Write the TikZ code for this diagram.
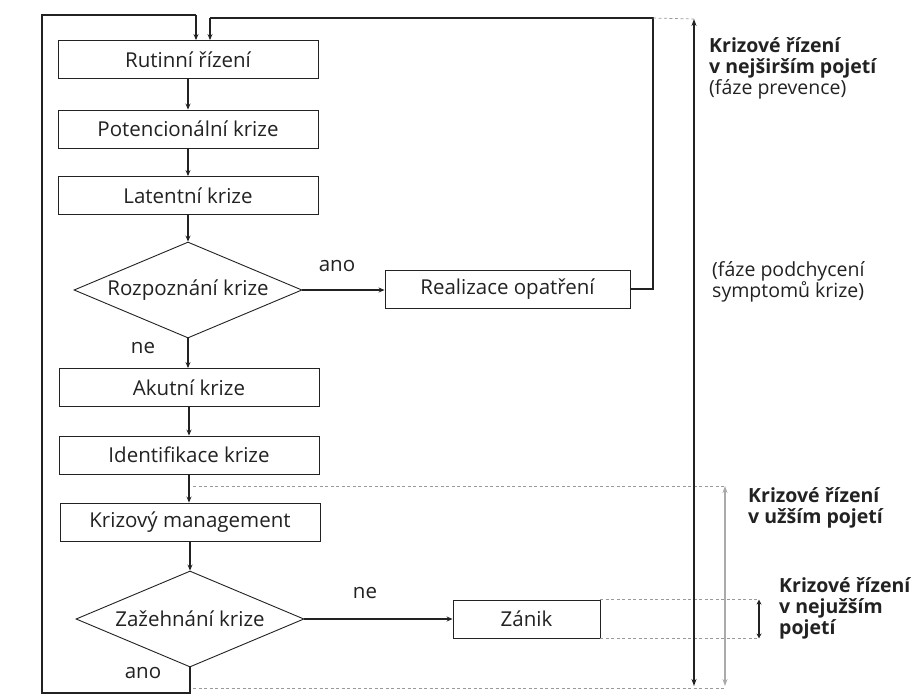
\documentclass[tikz,border=0pt]{standalone}
\usepackage{fontspec}
\setmainfont{Open Sans}
\usetikzlibrary{arrows.meta,shapes.geometric}
\definecolor{ink}{HTML}{222222}
\definecolor{dash}{HTML}{9A9A9A}
\definecolor{greyarrow}{HTML}{AAAAAA}
\tikzset{
  procbox/.style={draw=ink, line width=0.9pt, minimum width=260pt, minimum height=38pt, inner sep=0pt, font=\fontsize{20.5}{23}\selectfont, text=ink},
  decbox/.style={diamond, aspect=2.375, draw=ink, line width=0.9pt, minimum width=228pt, minimum height=96pt, inner sep=0pt, font=\fontsize{20.5}{23}\selectfont, text=ink},
  flow/.style={draw=ink, line width=1.1pt, -{Stealth[length=6pt,width=5pt]}},
  plainline/.style={draw=ink, line width=1.1pt},
  guide/.style={draw=dash, line width=0.7pt, dash pattern=on 3pt off 2.5pt},
  lbl/.style={font=\fontsize{20.5}{23}\selectfont, text=ink, inner sep=0pt},
  side/.style={font=\fontsize{19.5}{21}\selectfont, text=ink, align=left, inner sep=0pt, anchor=west},
}
\begin{document}
\begin{tikzpicture}[x=1pt,y=-1pt]
\useasboundingbox (0,0) rectangle (914,697);
\fill[white] (0,0) rectangle (914,697);

% main column
\node[procbox] (r1) at (188,59.5) {Rutinní řízení};
\node[procbox] (r2) at (188,129) {Potencionální krize};
\node[procbox] (r3) at (188,195.5) {Latentní krize};
\node[decbox]  (d1) at (188,290) {Rozpoznání krize};
\node[procbox, minimum width=245pt] (re) at (507.5,289) {Realizace opatření};
\node[procbox] (r4) at (189,387.5) {Akutní krize};
\node[procbox] (r5) at (189,455) {Identifikace krize};
\node[procbox] (r6) at (190,522) {Krizový management};
\node[decbox]  (d2) at (190,619) {Zažehnání krize};
\node[procbox, minimum width=147pt] (za) at (526.5,619) {Zánik};

% labels
\node[lbl] (lano1) at (337,266) {ano};
\node[lbl] (lne1)  at (143,348) {ne};
\node[lbl] (lne2)  at (365,593) {ne};
\node[lbl] (lano2) at (143,673) {ano};

% flow arrows
\draw[flow] (r1.south) -- (r2.north);
\draw[flow] (r2.south) -- (r3.north);
\draw[flow] (r3.south) -- (d1.north);
\draw[flow] (d1.south) -- (d1.south |- r4.north);
\draw[flow] (r4.south) -- (r5.north);
\draw[flow] (r5.south) -- (r5.south |- r6.north);
\draw[flow] (r6.south) -- (d2.north);
\draw[flow] (d1.east) -- (d1.east -| re.west);
\draw[flow] (d2.east) -- (d2.east -| za.west);

% feedback loops
\coordinate (fbR) at (653,18);
\coordinate (inR) at (210,18);
\coordinate (fbB) at (190,693);
\coordinate (fbL) at (42,693);
\coordinate (fbT) at (42,15);
\coordinate (inL) at (196,15);
\draw[plainline] (re.east) -| (fbR) -- (inR);
\draw[flow] (inR) -- (inR |- r1.north);
\draw[plainline] (d2.south) -- (fbB) -- (fbL) -- (fbT) -- (inL);
\draw[flow] (inL) -- (inL |- r1.north);

% scope arrows
\coordinate (bigT) at (694,19);
\coordinate (bigB) at (694,686);
\coordinate (grT) at (725,486);
\coordinate (grB) at (725,686);
\coordinate (gl1) at (193,486);
\coordinate (gl2) at (193,688);
\coordinate (smT) at (759,595);
\coordinate (smB) at (759,636);
\draw[guide] (fbR) -- (bigT);
\draw[guide] (gl1) -- (grT);
\draw[guide] (gl2) -- (grB |- gl2);
\draw[guide] (za.north east) -- (smT |- za.north east);
\draw[guide] (za.south east) -- (smB |- za.south east);
\draw[draw=ink, line width=1.3pt, {Stealth[length=7pt,width=5pt]}-{Stealth[length=7pt,width=5pt]}] (bigT) -- (bigB);
\draw[draw=greyarrow, line width=1.3pt, {Stealth[length=7pt,width=5pt]}-{Stealth[length=7pt,width=5pt]}] (grT) -- (grB);
\draw[draw=ink, line width=1.1pt, {Stealth[length=5pt,width=5pt]}-{Stealth[length=5pt,width=5pt]}] (smT |- za.north east) -- (smB |- za.south east);

% side texts
\node[side] (t1) at (709,68) {\textbf{Krizové řízení}\\\textbf{v nejširším pojetí}\\(fáze prevence)};
\node[side] (t2) at (712,282) {(fáze podchycení\\symptomů krize)};
\node[side] (t3) at (748,508) {\textbf{Krizové řízení}\\\textbf{v užším pojetí}};
\node[side] (t4) at (779,608) {\textbf{Krizové řízení}\\\textbf{v nejužším}\\\textbf{pojetí}};
\end{tikzpicture}
\end{document}
